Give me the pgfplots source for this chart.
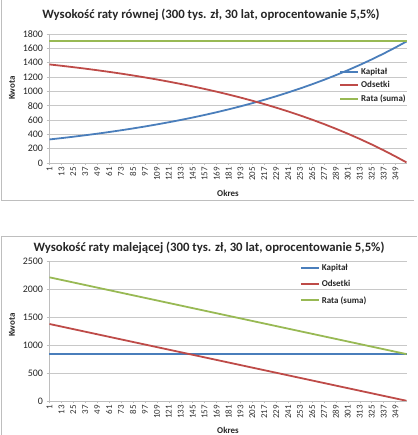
\documentclass[border=0pt]{standalone}
\usepackage{pgfplots}
\pgfplotsset{compat=1.18}
\usepackage{pgfplotstable}
\usepackage{fontspec}
\setmainfont{Carlito}
\definecolor{cblue}{RGB}{74,126,187}
\definecolor{cred}{RGB}{190,75,72}
\definecolor{cgreen}{RGB}{152,185,84}
\definecolor{cgrid}{RGB}{200,200,200}
\definecolor{cframe}{RGB}{190,190,190}

\pgfplotstableread{
k kap ods rata
1 328.37 1375.00 1703.37
13 346.89 1356.48 1703.37
25 366.46 1336.91 1703.37
37 387.14 1316.23 1703.37
49 408.97 1294.40 1703.37
61 432.04 1271.33 1703.37
73 456.41 1246.96 1703.37
85 482.17 1221.20 1703.37
97 509.36 1194.01 1703.37
109 538.10 1165.27 1703.37
121 568.45 1134.92 1703.37
133 600.52 1102.85 1703.37
145 634.39 1068.98 1703.37
157 670.18 1033.19 1703.37
169 707.99 995.38 1703.37
181 747.93 955.44 1703.37
193 790.11 913.26 1703.37
205 834.69 868.68 1703.37
217 881.77 821.60 1703.37
229 931.51 771.86 1703.37
241 984.06 719.31 1703.37
253 1039.57 663.80 1703.37
265 1098.21 605.16 1703.37
277 1160.16 543.21 1703.37
289 1225.61 477.76 1703.37
301 1294.75 408.62 1703.37
313 1367.78 335.59 1703.37
325 1444.94 258.43 1703.37
337 1526.45 176.92 1703.37
349 1612.56 90.81 1703.37
360 1695.50 7.87 1703.37
}\rowna

\pgfplotstableread{
k kap ods rata
1 833.33 1375.00 2208.33
181 833.33 687.50 1520.83
360 833.33 3.82 837.15
}\malejaca

\pgfplotsset{
  excel/.style={
    scale only axis,
    width=358bp,
    xmin=0.5, xmax=360.5,
    axis line style={cframe},
    x axis line style={-},
    y axis line style={-},
    ymajorgrids,
    grid style={cgrid, line width=0.8pt},
    axis x line*=bottom,
    axis y line*=left,
    xtick={1,13,...,349},
    xticklabel style={rotate=90, anchor=east, font=\fontsize{9}{10}\selectfont, text=black!80, inner sep=1.5pt},
    yticklabel style={font=\fontsize{10}{11}\selectfont, text=black!85},
    tick style={cframe, line width=0.5pt},
    major tick length=2.5bp,
    tick align=outside,
    /pgf/number format/assume math mode=true,
    /pgf/number format/1000 sep={},
    legend cell align=left,
    legend style={draw=none, fill=none, font=\bfseries\fontsize{9}{10}\selectfont, text=black!85,
      inner sep=0pt},
    legend image code/.code={\draw[##1, line width=2pt] (0bp,0bp) -- (18bp,0bp);},
    every axis plot/.append style={line width=1.8pt, no markers},
  }
}

\begin{document}
\begin{tikzpicture}[x=1bp,y=1bp]
\useasboundingbox (0,0) rectangle (417,435);
% frames
\draw[cframe, line width=0.7pt] (1,435) -- (1,235) -- (414,235);
\draw[cframe, line width=0.7pt] (1,0) -- (1,199) -- (417,199);

% top chart
\begin{axis}[excel,
  at={(49bp,272bp)}, anchor=south west,
  height=129bp,
  ymin=0, ymax=1800, ytick={0,200,...,1800},
  legend style={at={(0.81,0.755)}, anchor=north west, row sep=2pt},
]
\addplot[cblue] table[x=k,y=kap] {\rowna};
\addplot[cred] table[x=k,y=ods] {\rowna};
\addplot[cgreen] table[x=k,y=rata] {\rowna};
\legend{Kapitał,Odsetki,Rata (suma)}
\end{axis}
\node[font=\bfseries\fontsize{12.8}{14}\selectfont, text=black!85] at (211,420) {Wysokość raty równej (300 tys. zł, 30 lat, oprocentowanie 5,5\%)};
\node[font=\bfseries\fontsize{9}{10}\selectfont, rotate=90, text=black!85] at (12,347) {Kwota};
\node[font=\bfseries\fontsize{9}{10}\selectfont, text=black!85] at (228,242) {Okres};

% bottom chart
\begin{axis}[excel,
  at={(49bp,34bp)}, anchor=south west,
  height=140bp,
  ymin=0, ymax=2500, ytick={0,500,...,2500},
  legend style={at={(0.70,0.995)}, anchor=north west, row sep=4.5pt},
]
\addplot[cblue] table[x=k,y=kap] {\malejaca};
\addplot[cred] table[x=k,y=ods] {\malejaca};
\addplot[cgreen] table[x=k,y=rata] {\malejaca};
\legend{Kapitał,Odsetki,Rata (suma)}
\end{axis}
\node[font=\bfseries\fontsize{12.8}{14}\selectfont, text=black!85] at (209,187) {Wysokość raty malejącej (300 tys. zł, 30 lat, oprocentowanie 5,5\%)};
\node[font=\bfseries\fontsize{9}{10}\selectfont, rotate=90, text=black!85] at (12,110) {Kwota};
\node[font=\bfseries\fontsize{9}{10}\selectfont, text=black!85] at (228,5) {Okres};
\end{tikzpicture}
\end{document}
